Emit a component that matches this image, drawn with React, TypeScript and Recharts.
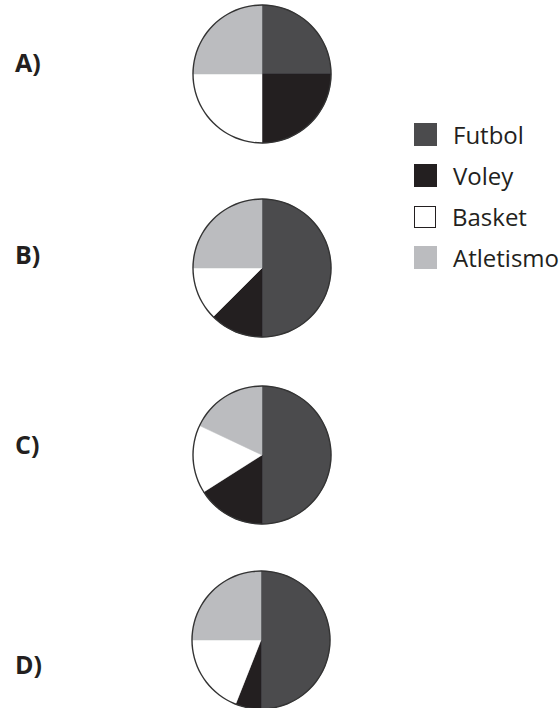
import React from 'react';
import { PieChart, Pie, Cell } from 'recharts';

// categories and the four answer options
const sports = ['Futbol', 'Voley', 'Basket', 'Atletismo'];
const optionLabels = ['A)', 'B)', 'C)', 'D)'];

// share of each sport (percent), in the order of `sports`
const optionA = [25, 25, 25, 25];
const optionB = [50, 12.5, 12.5, 25];
const optionC = [50, 16, 16, 18];
const optionD = [50, 6, 19, 25];

const colors = ['#4b4b4d', '#231f20', '#ffffff', '#bbbcbf'];

const options = [optionA, optionB, optionC, optionD];
const centers = [
  { cx: 262, cy: 74 },
  { cx: 262, cy: 268 },
  { cx: 262, cy: 455 },
  { cx: 261, cy: 640 },
];
const labelTops = [47, 239, 429, 649];

const App = () => {
  return (
    <div style={{ position: 'absolute', left: 0, top: 0, width: 559, height: 708, background: '#fff', fontFamily: '"Open Sans", sans-serif' }}>
      <PieChart width={559} height={708} margin={{ top: 0, right: 0, bottom: 0, left: 0 }}>
        {options.map((values, i) => (
          <Pie
            key={'p' + i}
            data={sports.map((name, j) => ({ name, value: values[j] }))}
            dataKey="value"
            cx={centers[i].cx}
            cy={centers[i].cy}
            outerRadius={69}
            startAngle={90}
            endAngle={-270}
            isAnimationActive={false}
          >
            {sports.map((s, j) => (
              <Cell key={s} fill={colors[j]} stroke={colors[j]} strokeWidth={0.5} />
            ))}
          </Pie>
        ))}
        {/* thin dark rim around each pie */}
        {options.map((_, i) => (
          <Pie
            key={'o' + i}
            data={[{ name: 'rim', value: 1 }]}
            dataKey="value"
            cx={centers[i].cx}
            cy={centers[i].cy}
            innerRadius={68.3}
            outerRadius={69.7}
            startAngle={90}
            endAngle={-270}
            fill="#333"
            stroke="none"
            isAnimationActive={false}
          />
        ))}
      </PieChart>

      {optionLabels.map((label, i) => (
        <div
          key={label}
          style={{ position: 'absolute', left: 15, top: labelTops[i], fontSize: 25, fontWeight: 700, color: '#231f20', lineHeight: '30px' }}
        >
          {label}
        </div>
      ))}

      <div style={{ position: 'absolute', left: 414, top: 114 }}>
        {sports.map((s, j) => (
          <div key={s} style={{ display: 'flex', alignItems: 'center', height: 41 }}>
            <span
              style={{
                width: j === 2 ? 20 : 23,
                height: j === 2 ? 20 : 23,
                background: colors[j],
                border: j === 2 ? '1.5px solid #231f20' : 'none',
                display: 'inline-block',
              }}
            />
            <span style={{ marginLeft: 16, fontSize: 24, color: '#231f20' }}>{s}</span>
          </div>
        ))}
      </div>
    </div>
  );
};

export default App;
